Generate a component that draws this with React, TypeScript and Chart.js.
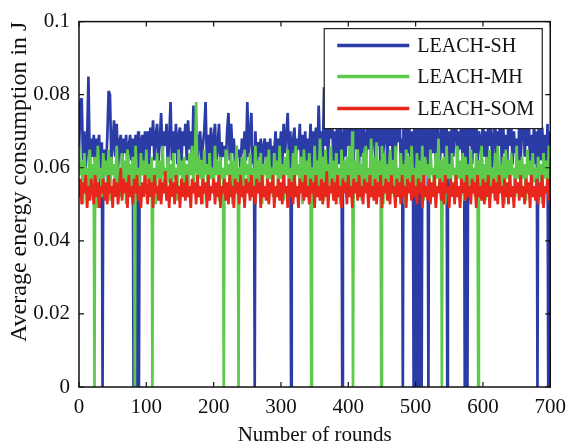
import React, { useEffect, useRef } from "react";
import { Chart, registerables } from "chart.js";

Chart.register(...registerables);

const seriesNames = ["LEACH-SH", "LEACH-MH", "LEACH-SOM"];
const seriesColors = ["#2b3ca6", "#5dca4b", "#e8261c"];

// one sample every 2 rounds, rounds 0..700
const sampleStep = 2;

const leachSH = [
  0.064, 0.078, 0.079, 0.062, 0.070, 0.060, 0.066, 0.085, 0.061, 0.068,
  0.063, 0.069, 0.060, 0.068, 0.066, 0.069, 0.049, 0.067, 0.062, 0.065,
  0.060, 0.068, 0.081, 0.080, 0.062, 0.066, 0.073, 0.063, 0.072, 0.060,
  0.067, 0.069, 0.061, 0.068, 0.064, 0.069, 0.059, 0.066, 0.069, 0.062,
  0.068, 0.060, 0.069, 0.063, 0.070, 0.058, 0.067, 0.069, 0.061, 0.070,
  0.064, 0.070, 0.060, 0.071, 0.066, 0.073, 0.062, 0.069, 0.072, 0.061,
  0.068, 0.075, 0.063, 0.070, 0.066, 0.072, 0.060, 0.068, 0.078, 0.062,
  0.070, 0.064, 0.072, 0.061, 0.069, 0.071, 0.060, 0.070, 0.066, 0.072,
  0.062, 0.073, 0.065, 0.070, 0.061, 0.077, 0.064, 0.070, 0.060, 0.068,
  0.070, 0.062, 0.066, 0.070, 0.078, 0.061, 0.069, 0.064, 0.071, 0.060,
  0.068, 0.072, 0.062, 0.066, 0.072, 0.060, 0.067, 0.063, 0.066, 0.061,
  0.070, 0.075, 0.062, 0.072, 0.064, 0.068, 0.060, 0.066, 0.063, 0.065,
  0.060, 0.068, 0.064, 0.070, 0.062, 0.078, 0.063, 0.069, 0.075, 0.061,
  0.066, 0.070, 0.060, 0.067, 0.063, 0.068, 0.059, 0.066, 0.068, 0.061,
  0.067, 0.062, 0.068, 0.060, 0.066, 0.064, 0.070, 0.061, 0.068, 0.063,
  0.070, 0.061, 0.072, 0.064, 0.069, 0.075, 0.062, 0.070, 0.060, 0.068,
  0.071, 0.062, 0.068, 0.065, 0.072, 0.060, 0.069, 0.063, 0.070, 0.061,
  0.068, 0.064, 0.072, 0.060, 0.070, 0.066, 0.071, 0.061, 0.077, 0.065,
  0.070, 0.062, 0.082, 0.066, 0.075, 0.061, 0.072, 0.068, 0.074, 0.060,
  0.070, 0.064, 0.076, 0.061, 0.072, 0.068, 0.060, 0.075, 0.063, 0.071,
  0.066, 0.078, 0.062, 0.074, 0.060, 0.079, 0.065, 0.072, 0.061, 0.076,
  0.063, 0.074, 0.068, 0.060, 0.072, 0.065, 0.078, 0.061, 0.070, 0.074,
  0.062, 0.079, 0.066, 0.072, 0.060, 0.075, 0.064, 0.070, 0.073, 0.061,
  0.072, 0.066, 0.078, 0.062, 0.074, 0.060, 0.071, 0.067, 0.076, 0.061,
  0.068, 0.075, 0.062, 0.072, 0.064, 0.078, 0.060, 0.070, 0.066, 0.074,
  0.061, 0.079, 0.065, 0.072, 0.060, 0.075, 0.068, 0.062, 0.074, 0.066,
  0.072, 0.060, 0.078, 0.064, 0.071, 0.062, 0.076, 0.066, 0.060, 0.073,
  0.064, 0.072, 0.061, 0.076, 0.066, 0.070, 0.060, 0.074, 0.063, 0.071,
  0.076, 0.061, 0.070, 0.065, 0.074, 0.060, 0.078, 0.082, 0.062, 0.072,
  0.066, 0.077, 0.061, 0.072, 0.064, 0.075, 0.060, 0.070, 0.068, 0.062,
  0.075, 0.063, 0.070, 0.061, 0.073, 0.066, 0.071, 0.060, 0.068, 0.074,
  0.062, 0.070, 0.066, 0.077, 0.061, 0.072, 0.064, 0.069, 0.060, 0.075,
  0.066, 0.072, 0.061, 0.070, 0.064, 0.068, 0.060, 0.073, 0.062, 0.070,
  0.078, 0.063, 0.071, 0.066, 0.075, 0.060, 0.069, 0.064, 0.072, 0.061,
  0.070, 0.066, 0.078, 0.062, 0.071, 0.064, 0.069, 0.060, 0.072, 0.066,
  0.070,
];

const leachMH = [
  0.066, 0.058, 0.062, 0.050, 0.064, 0.056, 0.060, 0.053, 0.065, 0.057,
  0.061, 0.054, 0.063, 0.049, 0.066, 0.057, 0.060, 0.052, 0.064, 0.058,
  0.062, 0.055, 0.065, 0.051, 0.063, 0.058, 0.061, 0.054, 0.066, 0.056,
  0.060, 0.052, 0.064, 0.057, 0.062, 0.050, 0.065, 0.058, 0.061, 0.055,
  0.063, 0.053, 0.066, 0.057, 0.060, 0.051, 0.064, 0.058, 0.062, 0.054,
  0.065, 0.056, 0.061, 0.052, 0.063, 0.058, 0.060, 0.050, 0.064, 0.057,
  0.062, 0.054, 0.066, 0.058, 0.060, 0.052, 0.063, 0.056, 0.061, 0.053,
  0.064, 0.057, 0.060, 0.051, 0.065, 0.058, 0.062, 0.054, 0.063, 0.056,
  0.061, 0.052, 0.064, 0.058, 0.066, 0.055, 0.060, 0.078, 0.056, 0.063,
  0.057, 0.062, 0.050, 0.065, 0.058, 0.061, 0.053, 0.064, 0.057, 0.060,
  0.054, 0.066, 0.058, 0.062, 0.051, 0.063, 0.057, 0.060, 0.053, 0.065,
  0.058, 0.061, 0.055, 0.064, 0.050, 0.062, 0.057, 0.066, 0.054, 0.060,
  0.056, 0.063, 0.052, 0.065, 0.058, 0.061, 0.054, 0.064, 0.057, 0.060,
  0.052, 0.066, 0.057, 0.062, 0.055, 0.064, 0.050, 0.061, 0.058, 0.063,
  0.054, 0.065, 0.057, 0.060, 0.052, 0.064, 0.058, 0.062, 0.055, 0.066,
  0.057, 0.061, 0.051, 0.063, 0.058, 0.065, 0.054, 0.060, 0.056, 0.064,
  0.053, 0.066, 0.058, 0.061, 0.055, 0.063, 0.050, 0.065, 0.057, 0.062,
  0.054, 0.064, 0.058, 0.060, 0.052, 0.066, 0.057, 0.062, 0.055, 0.068,
  0.057, 0.063, 0.051, 0.065, 0.058, 0.061, 0.054, 0.066, 0.056, 0.062,
  0.053, 0.064, 0.058, 0.060, 0.050, 0.065, 0.057, 0.062, 0.055, 0.063,
  0.058, 0.066, 0.052, 0.070, 0.057, 0.062, 0.054, 0.065, 0.058, 0.061,
  0.051, 0.064, 0.057, 0.066, 0.055, 0.060, 0.058, 0.068, 0.053, 0.063,
  0.057, 0.067, 0.054, 0.062, 0.058, 0.066, 0.050, 0.064, 0.057, 0.061,
  0.055, 0.065, 0.058, 0.062, 0.052, 0.066, 0.057, 0.060, 0.054, 0.064,
  0.058, 0.061, 0.050, 0.065, 0.057, 0.063, 0.054, 0.066, 0.058, 0.060,
  0.053, 0.064, 0.057, 0.062, 0.055, 0.066, 0.051, 0.063, 0.058, 0.061,
  0.054, 0.065, 0.058, 0.060, 0.052, 0.064, 0.057, 0.068, 0.055, 0.062,
  0.058, 0.063, 0.050, 0.066, 0.057, 0.061, 0.054, 0.064, 0.058, 0.060,
  0.053, 0.066, 0.057, 0.062, 0.055, 0.064, 0.051, 0.063, 0.058, 0.061,
  0.054, 0.065, 0.057, 0.060, 0.052, 0.064, 0.058, 0.062, 0.055, 0.066,
  0.057, 0.061, 0.051, 0.063, 0.058, 0.065, 0.054, 0.060, 0.056, 0.064,
  0.053, 0.066, 0.058, 0.061, 0.055, 0.063, 0.050, 0.065, 0.057, 0.062,
  0.054, 0.064, 0.058, 0.060, 0.052, 0.066, 0.057, 0.062, 0.055, 0.063,
  0.057, 0.061, 0.051, 0.065, 0.058, 0.062, 0.054, 0.064, 0.056, 0.060,
  0.053, 0.063, 0.058, 0.061, 0.050, 0.064, 0.057, 0.062, 0.055, 0.066,
  0.064,
];

const leachSOM = [
  0.052, 0.057, 0.050, 0.056, 0.053, 0.058, 0.049, 0.055, 0.051, 0.057,
  0.054, 0.050, 0.058, 0.052, 0.056, 0.049, 0.055, 0.053, 0.057, 0.051,
  0.056, 0.050, 0.058, 0.053, 0.055, 0.049, 0.057, 0.052, 0.056, 0.050,
  0.055, 0.060, 0.051, 0.057, 0.053, 0.056, 0.049, 0.058, 0.052, 0.055,
  0.050, 0.057, 0.053, 0.058, 0.051, 0.055, 0.049, 0.056, 0.052, 0.058,
  0.054, 0.050, 0.057, 0.052, 0.056, 0.049, 0.058, 0.053, 0.055, 0.051,
  0.057, 0.050, 0.056, 0.053, 0.059, 0.051, 0.055, 0.049, 0.057, 0.052,
  0.056, 0.050, 0.058, 0.053, 0.055, 0.049, 0.057, 0.052, 0.056, 0.051,
  0.058, 0.052, 0.055, 0.049, 0.057, 0.053, 0.056, 0.050, 0.058, 0.052,
  0.055, 0.050, 0.057, 0.053, 0.056, 0.049, 0.058, 0.051, 0.055, 0.053,
  0.057, 0.050, 0.056, 0.052, 0.058, 0.049, 0.055, 0.053, 0.057, 0.051,
  0.056, 0.050, 0.058, 0.052, 0.055, 0.049, 0.057, 0.053, 0.056, 0.050,
  0.058, 0.052, 0.055, 0.049, 0.057, 0.053, 0.056, 0.051, 0.058, 0.052,
  0.055, 0.050, 0.057, 0.053, 0.056, 0.049, 0.058, 0.052, 0.055, 0.051,
  0.057, 0.050, 0.056, 0.053, 0.058, 0.049, 0.055, 0.052, 0.057, 0.051,
  0.056, 0.050, 0.058, 0.053, 0.055, 0.049, 0.057, 0.052, 0.056, 0.050,
  0.058, 0.052, 0.055, 0.049, 0.057, 0.053, 0.056, 0.051, 0.058, 0.052,
  0.055, 0.050, 0.057, 0.053, 0.056, 0.049, 0.058, 0.052, 0.055, 0.051,
  0.057, 0.050, 0.056, 0.052, 0.059, 0.049, 0.055, 0.053, 0.057, 0.051,
  0.056, 0.050, 0.058, 0.052, 0.055, 0.049, 0.057, 0.053, 0.056, 0.050,
  0.058, 0.052, 0.055, 0.049, 0.057, 0.053, 0.056, 0.051, 0.058, 0.052,
  0.055, 0.050, 0.057, 0.053, 0.056, 0.049, 0.058, 0.052, 0.055, 0.051,
  0.057, 0.050, 0.056, 0.052, 0.058, 0.049, 0.055, 0.053, 0.057, 0.051,
  0.056, 0.050, 0.058, 0.053, 0.055, 0.049, 0.057, 0.052, 0.056, 0.050,
  0.058, 0.052, 0.055, 0.049, 0.057, 0.053, 0.056, 0.051, 0.058, 0.052,
  0.055, 0.050, 0.057, 0.053, 0.056, 0.049, 0.058, 0.052, 0.055, 0.051,
  0.057, 0.050, 0.056, 0.052, 0.058, 0.049, 0.055, 0.053, 0.057, 0.051,
  0.056, 0.050, 0.058, 0.053, 0.055, 0.049, 0.057, 0.052, 0.056, 0.050,
  0.058, 0.052, 0.055, 0.049, 0.057, 0.053, 0.056, 0.051, 0.058, 0.052,
  0.055, 0.050, 0.057, 0.053, 0.056, 0.049, 0.058, 0.052, 0.055, 0.051,
  0.057, 0.050, 0.056, 0.052, 0.058, 0.049, 0.055, 0.053, 0.057, 0.051,
  0.056, 0.050, 0.058, 0.053, 0.055, 0.049, 0.057, 0.052, 0.056, 0.050,
  0.058, 0.052, 0.055, 0.049, 0.057, 0.053, 0.056, 0.051, 0.058, 0.052,
  0.055, 0.050, 0.057, 0.053, 0.056, 0.049, 0.058, 0.052, 0.055, 0.051,
  0.057, 0.050, 0.056, 0.052, 0.058, 0.049, 0.055, 0.053, 0.057, 0.051,
  0.055,
];

// rounds at which a series drops to zero energy
const dropsSH = [35, 81, 85, 89, 261, 315, 391, 481, 497, 501, 505, 509, 519, 547, 573, 577, 681, 697];
const dropsMH = [23, 83, 109, 215, 237, 345, 407, 449, 539, 593];
const dropsSOM: number[] = [];

const xTicks = [0, 100, 200, 300, 400, 500, 600, 700];
const yTicks = [0, 0.02, 0.04, 0.06, 0.08, 0.1];

const FONT = "'Liberation Serif', 'Times New Roman', serif";

function buildSeries(values: number[], drops: number[]) {
  const pts = values.map((v, i) => ({ x: i * sampleStep, y: v }));
  drops.forEach((r) => pts.push({ x: r, y: 0 }));
  pts.sort((a, b) => a.x - b.x);
  return pts;
}

const framePlugin = {
  id: "matlabFrame",
  afterDatasetsDraw(chart: any) {
    const { ctx, chartArea, scales } = chart;
    const { left, right, top, bottom } = chartArea;
    ctx.save();
    ctx.strokeStyle = "#111";
    ctx.lineWidth = 1.5;
    ctx.strokeRect(left, top, right - left, bottom - top);
    ctx.lineWidth = 1.2;
    const tl = 5;
    ctx.beginPath();
    xTicks.forEach((t) => {
      const x = scales.x.getPixelForValue(t);
      ctx.moveTo(x, bottom);
      ctx.lineTo(x, bottom - tl);
      ctx.moveTo(x, top);
      ctx.lineTo(x, top + tl);
    });
    yTicks.forEach((t) => {
      const y = scales.y.getPixelForValue(t);
      ctx.moveTo(left, y);
      ctx.lineTo(left + tl, y);
      ctx.moveTo(right, y);
      ctx.lineTo(right - tl, y);
    });
    ctx.stroke();

    // legend box
    const bx = right - 226;
    const by = top + 7;
    const bw = 218;
    const bh = 100;
    ctx.fillStyle = "#fff";
    ctx.fillRect(bx, by, bw, bh);
    ctx.strokeStyle = "#222";
    ctx.lineWidth = 1.2;
    ctx.strokeRect(bx, by, bw, bh);
    const rowY = [by + 17, by + 48, by + 80];
    seriesNames.forEach((name, i) => {
      ctx.strokeStyle = seriesColors[i];
      ctx.lineWidth = 3.5;
      ctx.beginPath();
      ctx.moveTo(bx + 13, rowY[i]);
      ctx.lineTo(bx + 85, rowY[i]);
      ctx.stroke();
      ctx.fillStyle = "#111";
      ctx.font = `20px ${FONT}`;
      ctx.textAlign = "left";
      ctx.textBaseline = "middle";
      ctx.fillText(name, bx + 93, rowY[i] + 1);
    });
    ctx.restore();
  },
};

export default function App() {
  const canvasRef = useRef<HTMLCanvasElement>(null);

  useEffect(() => {
    if (!canvasRef.current) return;
    const data = [leachSH, leachMH, leachSOM];
    const drops = [dropsSH, dropsMH, dropsSOM];
    const chart = new Chart(canvasRef.current, {
      type: "line",
      data: {
        datasets: seriesNames.map((name, i) => ({
          label: name,
          data: buildSeries(data[i], drops[i]),
          borderColor: seriesColors[i],
          backgroundColor: seriesColors[i],
          borderWidth: 2.7,
          pointRadius: 0,
          tension: 0,
          borderJoinStyle: "bevel" as const,
          order: 3 - i,
        })),
      },
      options: {
        animation: false,
        responsive: false,
        events: [],
        layout: { padding: { left: 0, right: 18, top: 16, bottom: 0 } },
        plugins: { legend: { display: false }, tooltip: { enabled: false } },
        scales: {
          x: {
            type: "linear",
            min: 0,
            max: 700,
            afterBuildTicks: (s: any) => {
              s.ticks = xTicks.map((v) => ({ value: v }));
            },
            afterFit: (s: any) => {
              s.height = 59;
            },
            grid: { display: false, drawTicks: false },
            border: { display: false },
            ticks: {
              color: "#111",
              font: { family: FONT, size: 21 },
              padding: 8,
              maxRotation: 0,
            },
            title: {
              display: true,
              text: "Number of rounds",
              color: "#111",
              font: { family: FONT, size: 21, lineHeight: 1 },
              padding: { top: 0, bottom: 0 },
            },
          },
          y: {
            type: "linear",
            min: 0,
            max: 0.1,
            afterBuildTicks: (s: any) => {
              s.ticks = yTicks.map((v) => ({ value: v }));
            },
            afterFit: (s: any) => {
              s.width = 79;
            },
            grid: { display: false, drawTicks: false },
            border: { display: false },
            ticks: {
              color: "#111",
              font: { family: FONT, size: 21 },
              padding: 9,
              callback: (v: any) => String(+Number(v).toFixed(2)),
            },
            title: {
              display: true,
              text: "Average energy consumption in J",
              align: "end",
              color: "#111",
              font: { family: FONT, size: 24, lineHeight: 1 },
              padding: { top: 8, bottom: 0 },
            },
          },
        },
      },
      plugins: [framePlugin],
    });
    return () => chart.destroy();
  }, []);

  return (
    <div style={{ position: "absolute", left: 0, top: 0, width: 574, height: 446, background: "#fff" }}>
      <canvas ref={canvasRef} width={574} height={446} />
    </div>
  );
}
